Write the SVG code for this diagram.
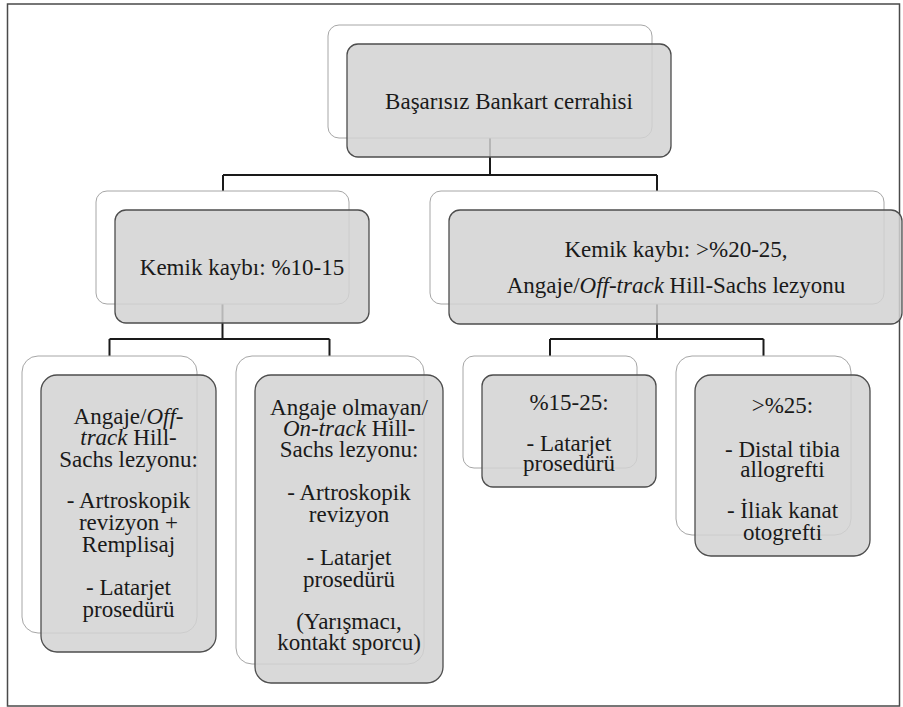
<svg xmlns="http://www.w3.org/2000/svg" width="903" height="707" viewBox="0 0 903 707" font-family="'Liberation Serif', 'Times New Roman', Tinos, 'DejaVu Serif', serif">
<style>
.back{fill:#ffffff;stroke:#a6a6a6;stroke-width:1}
.front{fill:#d2d2d2;fill-opacity:0.85;stroke:#4d4d4d;stroke-width:1.3}
.conn{fill:none;stroke:#1a1a1a;stroke-width:2}
.t{font-family:'Liberation Serif','Times New Roman',Tinos,'DejaVu Serif',serif;font-size:23px;fill:#1a1a1a;text-anchor:middle}
.it{font-style:italic}
</style>
<rect x="0" y="0" width="903" height="707" fill="#ffffff"/>
<rect x="7.5" y="4" width="892" height="702" fill="none" stroke="#4a4a4a" stroke-width="1.5"/>
<g id="connectors">
<path class="conn" d="M490,138 V175 M223,175 H657 M223,175 V191 M657,175 V191"/>
<path class="conn" d="M222.5,304 V339 M109.5,339 H329.5 M109.5,339 V356 M329.5,339 V356"/>
<path class="conn" d="M657,304 V339 M550,339 H763.5 M550,339 V356 M763.5,339 V356"/>
</g>
<g id="node-root">
<rect class="back" x="328" y="25" width="324" height="113" rx="11"/>
<rect class="front" x="347" y="44" width="324" height="113" rx="11"/>
<text class="t" x="509" y="109">Başarısız Bankart cerrahisi</text>
</g>
<g id="node-left">
<rect class="back" x="96" y="191" width="253" height="113" rx="11"/>
<rect class="front" x="115" y="210" width="254" height="113" rx="11"/>
<text class="t" x="242" y="275">Kemik kaybı: %10-15</text>
</g>
<g id="node-right">
<rect class="back" x="430" y="191" width="454" height="113" rx="11"/>
<rect class="front" x="449" y="210" width="453" height="114" rx="11"/>
<text class="t" x="676" y="257">Kemik kaybı: &gt;%20-25,</text>
<text class="t" x="676" y="293">Angaje/<tspan class="it">Off-track</tspan> Hill-Sachs lezyonu</text>
</g>
<g id="node-offtrack">
<rect class="back" x="22" y="356" width="175" height="277" rx="16"/>
<rect class="front" x="41" y="375" width="175" height="277" rx="16"/>
<text class="t" x="128.5" y="424">Angaje/<tspan class="it">Off-</tspan></text>
<text class="t" x="128.5" y="445"><tspan class="it">track</tspan> Hill-</text>
<text class="t" x="128.5" y="467">Sachs lezyonu:</text>
<text class="t" x="128.5" y="508">- Artroskopik</text>
<text class="t" x="128.5" y="529.5">revizyon +</text>
<text class="t" x="128.5" y="551.5">Remplisaj</text>
<text class="t" x="128.5" y="595">- Latarjet</text>
<text class="t" x="128.5" y="616.5">prosedürü</text>
</g>
<g id="node-ontrack">
<rect class="back" x="236" y="356" width="188" height="308" rx="16"/>
<rect class="front" x="255" y="375" width="188" height="308" rx="16"/>
<text class="t" x="349" y="415">Angaje olmayan/</text>
<text class="t" x="349" y="436"><tspan class="it">On-track</tspan> Hill-</text>
<text class="t" x="349" y="457">Sachs lezyonu:</text>
<text class="t" x="349" y="500">- Artroskopik</text>
<text class="t" x="349" y="522">revizyon</text>
<text class="t" x="349" y="565">- Latarjet</text>
<text class="t" x="349" y="587">prosedürü</text>
<text class="t" x="349" y="629">(Yarışmacı,</text>
<text class="t" x="349" y="650">kontakt sporcu)</text>
</g>
<g id="node-15-25">
<rect class="back" x="463" y="356" width="174" height="112" rx="11"/>
<rect class="front" x="482" y="375" width="174" height="112" rx="11"/>
<text class="t" x="569" y="410">%15-25:</text>
<text class="t" x="569" y="451">- Latarjet</text>
<text class="t" x="569" y="471">prosedürü</text>
</g>
<g id="node-25">
<rect class="back" x="676" y="356" width="175" height="179" rx="16"/>
<rect class="front" x="695" y="375" width="175" height="181" rx="16"/>
<text class="t" x="782.5" y="413">&gt;%25:</text>
<text class="t" x="782.5" y="457">- Distal tibia</text>
<text class="t" x="782.5" y="477">allogrefti</text>
<text class="t" x="782.5" y="518">- İliak kanat</text>
<text class="t" x="782.5" y="540">otogrefti</text>
</g>
</svg>
